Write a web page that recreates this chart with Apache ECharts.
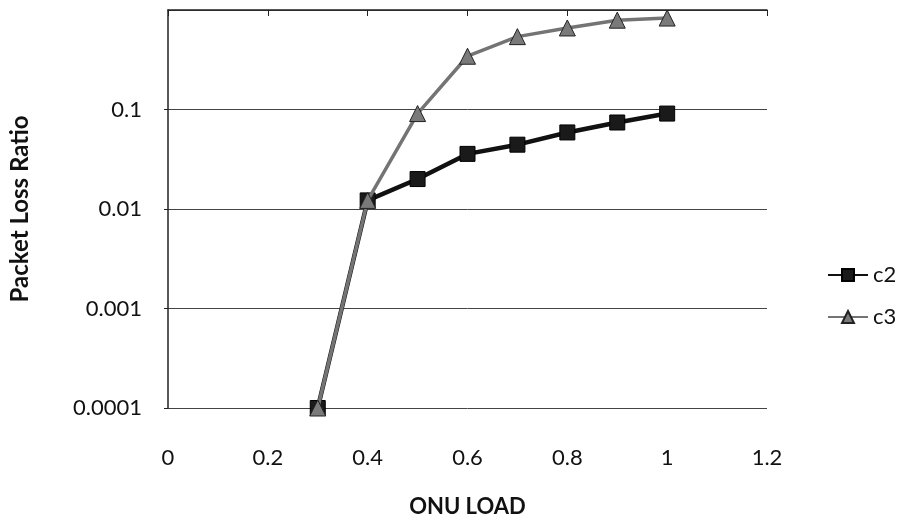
<!DOCTYPE html>
<html>
<head>
<meta charset="utf-8">
<script src="https://cdn.jsdelivr.net/npm/echarts@6/dist/echarts.min.js"></script>
<style>
  html, body { margin: 0; padding: 0; background: #fff; }
  #chart { width: 911px; height: 523px; }
</style>
</head>
<body>
<div id="chart"></div>
<script>
// onu load values (x)
var loads = [0.3, 0.4, 0.5, 0.6, 0.7, 0.8, 0.9, 1.0];
// packet loss ratio per class
var c2 = [0.0001, 0.0122, 0.0200, 0.0358, 0.0443, 0.0588, 0.0740, 0.0910];
var c3 = [0.0001, 0.0122, 0.0910, 0.3430, 0.5400, 0.6600, 0.7900, 0.8300];
var seriesNames = ['c2', 'c3'];

function pares(xs, ys) {
    var out = [];
    for (var i = 0; i < xs.length; i++) {
        out.push([xs[i], ys[i]]);
    }
    return out;
}

var fuente = 'Lato, "Open Sans", sans-serif';
var myChart = echarts.init(document.getElementById('chart'));

option = {
    animation: false,
    backgroundColor: '#fff',
    grid: {
        left: 168,
        right: 144,
        top: 10,
        bottom: 108
    },
    legend: {
        data: seriesNames,
        orient: 'vertical',
        left: 822,
        top: 259,
        itemWidth: 40,
        itemHeight: 15,
        itemGap: 20,
        textStyle: {
            fontFamily: fuente,
            fontSize: 22,
            color: '#111'
        }
    },
    xAxis: [{
        type: 'value',
        position: 'bottom',
        min: 0,
        max: 1.2,
        interval: 0.2,
        name: 'ONU LOAD',
        nameLocation: 'middle',
        nameGap: 88,
        nameTextStyle: {
            fontFamily: fuente,
            fontSize: 22,
            fontWeight: 'bold',
            color: '#111'
        },
        axisLine: { show: false },
        axisTick: { show: false },
        splitLine: { show: false },
        axisLabel: {
            margin: 39,
            fontFamily: fuente,
            fontSize: 22,
            color: '#111'
        }
    }, {
        type: 'value',
        position: 'top',
        min: 0,
        max: 1.2,
        interval: 0.2,
        axisLine: { show: true, lineStyle: { color: '#222', width: 1.5 } },
        axisTick: { show: true, inside: true, length: 6, lineStyle: { color: '#222' } },
        axisLabel: { show: false },
        splitLine: { show: false }
    }],
    yAxis: {
        type: 'log',
        logBase: 10,
        min: 0.0001,
        max: 1,
        name: 'Packet Loss Ratio',
        nameLocation: 'middle',
        nameGap: 136,
        nameTextStyle: {
            fontFamily: fuente,
            fontSize: 24,
            fontWeight: 'bold',
            color: '#111'
        },
        axisLine: { show: true, lineStyle: { color: '#222', width: 1.5 } },
        axisTick: { show: true, length: 4, lineStyle: { color: '#222' } },
        splitLine: { show: true, lineStyle: { color: '#444', width: 1 } },
        axisLabel: {
            margin: 26,
            fontFamily: fuente,
            fontSize: 22,
            color: '#111',
            showMaxLabel: false,
            formatter: function (v) {
                if (v >= 1) return '';
                return String(Number(v.toPrecision(1)));
            }
        }
    },
    series: [{
        name: 'c2',
        type: 'line',
        data: pares(loads, c2),
        symbol: 'rect',
        symbolSize: 15,
        color: '#111',
        lineStyle: { width: 4.5, color: '#111' },
        itemStyle: { color: '#1a1a1a', borderColor: '#000', borderWidth: 1 },
        z: 2
    }, {
        name: 'c3',
        type: 'line',
        data: pares(loads, c3),
        symbol: 'triangle',
        symbolSize: 16,
        color: '#747474',
        lineStyle: { width: 3.5, color: '#747474' },
        itemStyle: { color: '#7a7a7a', borderColor: '#222', borderWidth: 1 },
        z: 3
    }]
};
myChart.setOption(option, true);
</script>
</body>
</html>
